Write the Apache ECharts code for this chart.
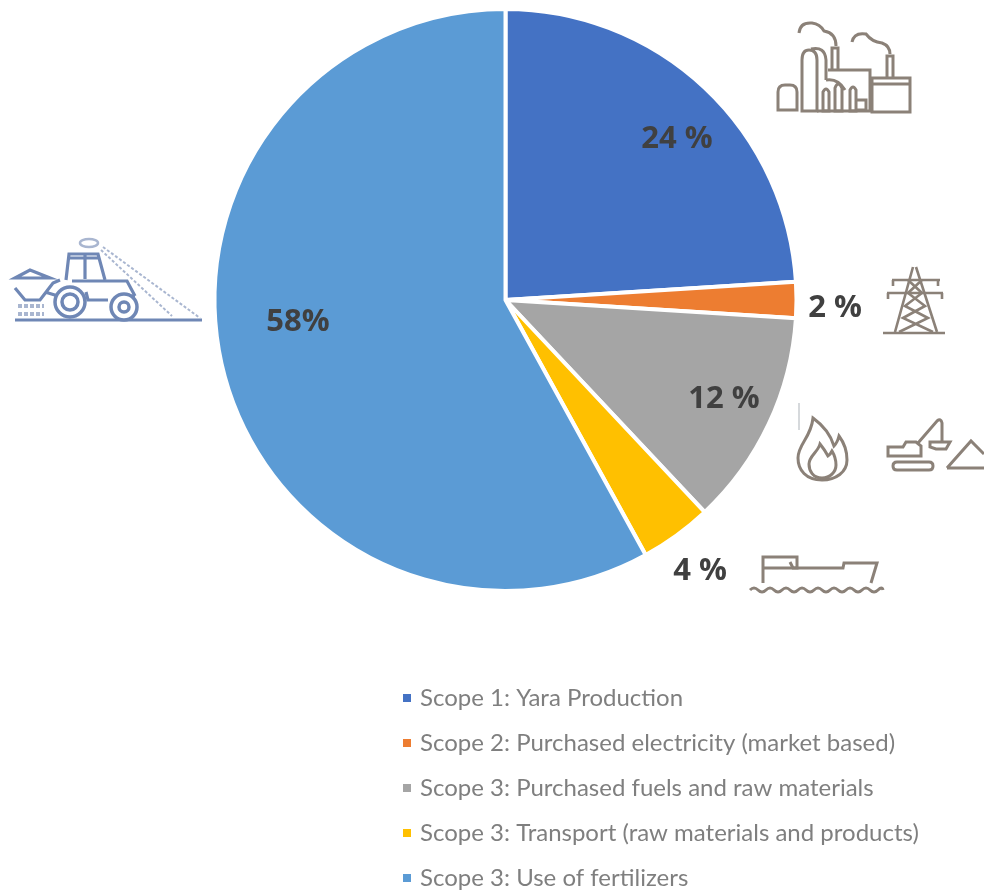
<!DOCTYPE html>
<html>
<head>
<meta charset="utf-8">
<style>html,body{margin:0;padding:0;background:#fff}#chart{width:984px;height:890px}</style>
<script src="https://cdn.jsdelivr.net/npm/echarts@6/dist/echarts.min.js"></script>
</head>
<body>
<div id="chart"></div>
<script>
// Greenhouse gas emissions by scope
const categories = [
  'Scope 1: Yara Production',
  'Scope 2: Purchased electricity (market based)',
  'Scope 3: Purchased fuels and raw materials',
  'Scope 3: Transport (raw materials and products)',
  'Scope 3: Use of fertilizers'
];
const shares = [24, 2, 12, 4, 58];
const shareLabels = ['24 %', '2 %', '12 %', '4 %', '58%'];
const sliceColors = ['#4472c4', '#ed7d31', '#a5a5a5', '#ffc000', '#5b9bd5'];
const labelSpots = [[677, 139], [835, 308], [724, 399], [700, 571], [298, 322]];

const BROWN = '#8b8178';
const BLUE = '#6f87b5';

// Line-art pictograms, each one a list of stroked paths
const factoryIcon = [
  'M778,110 V92 Q778,85 785,85 H790 Q797,85 797,92 V110 Z',
  'M802,111 V60 Q802,50 809,50 Q817,50 817,60 V111 Z',
  'M811,49 Q825,46 826,60 V80',
  'M832,70 V48 H838 V70',
  'M828,70 H870 V111 H817',
  'M872,78 H910 V112 H872 Z M872,84 H910',
  'M887,78 V56 H893 V78',
  'M799,33 Q800,22 812,23 Q820,24 824,31 Q836,33 836,46',
  'M852,42 Q854,32 866,34 Q872,42 882,43 Q890,46 890,54',
  'M823,111 V92 Q826,86 829,92 V111 Z M835,111 V88 Q838,80 842,88 V111 Z M850,111 V90 Q853,84 856,90 V111 Z',
  'M826,80 Q838,78 845,90 M856,100 H866 V110 H856'
];
const pylonIcon = [
  'M883,333 H945',
  'M913,267 L895,332 M916,267 L937,332',
  'M892,280 H940 M887,293 H943',
  'M893,280 V286 M938,280 V286 M888,293 V299 M942,293 V299',
  'M908,280 L922,293 L905,306 L928,318 L899,332 M922,280 L908,293 L925,306 L903,318 L933,332'
];
const flameIcon = [
  'M822,480 C806,480 798,470 798,458 C798,444 811,438 813,418 C824,426 831,436 834,446 C837,443 838,440 839,436 C845,444 847,452 847,460 C847,472 836,480 822,480 Z',
  'M822,478 C813,478 809,471 809,464 C809,456 818,452 820,444 C824,449 826,452 828,456 C830,455 831,453 832,451 C835,456 836,460 836,465 C836,472 830,478 822,478 Z'
];
const flameTick = ['M799,403 V430'];
const excavatorIcon = [
  'M893,466 Q893,462 897,462 H929 Q933,462 933,466 Q933,470 929,470 H897 Q893,470 893,466 Z',
  'M888,447 H903 L906,442 H916 L921,446 V456 H888 Z',
  'M918,443 L937,421 Q941,418 942,423 V442',
  'M930,447 V442 H950 L946,449 H936 Z',
  'M947,468 L971,441 L984,454 M947,468 H984'
];
const shipIcon = [
  'M763,583 V557 H797 V568 H763',
  'M790,562 L793,568 H843 L844,563 H877 L871,583',
  'M750,590 q4,-4 8,0 t8,0 t8,0 t8,0 t8,0 t8,0 t8,0 t8,0 t8,0 t8,0 t8,0 t8,0 t8,0 t8,0 t8,0 t8,0 t5,0'
];
const tractorIcon = [
  'M15,320 H202',
  'M66,280 L69,254 H98 L105,280 M68,258 H99 M85,254 V279',
  'M72,281 H127 L135,296 M127,296 H135',
  'M86,292 L88,300 H108',
  'M15,278 L30,270 L50,278 Z',
  'M15,288 L25,300 H40 L53,283 L60,280 M45,292 L58,296'
];
const tractorSeeds = ['M18,306 H44 M18,314 H44'];
const tractorDashes = ['M103,247 L200,318', 'M101,250 L172,316'];

function strokedPaths(paths, color, lineWidth, dash) {
  return paths.map(function (d) {
    return {
      type: 'path',
      shape: { pathData: d },
      style: { fill: 'none', stroke: color, lineWidth: lineWidth, lineDash: dash || null }
    };
  });
}
function wheel(cx, cy, outer, inner) {
  return [outer, inner].map(function (r) {
    return {
      type: 'circle',
      shape: { cx: cx, cy: cy, r: r },
      style: { fill: '#fff', stroke: BLUE, lineWidth: 3.5 }
    };
  });
}

const iconElements = []
  .concat(strokedPaths(factoryIcon, BROWN, 3))
  .concat(strokedPaths(pylonIcon, BROWN, 2.6))
  .concat(strokedPaths(flameIcon, BROWN, 3))
  .concat(strokedPaths(flameTick, '#c9ccd0', 1.5))
  .concat(strokedPaths(excavatorIcon, BROWN, 3))
  .concat(strokedPaths(shipIcon, BROWN, 3))
  .concat(strokedPaths(tractorIcon, BLUE, 3.2))
  .concat(strokedPaths(tractorSeeds, '#a9b6d0', 4, [4, 2]))
  .concat(strokedPaths(tractorDashes, '#a9b6d0', 2, [3, 2]))
  .concat(wheel(70, 302, 15, 8))
  .concat(wheel(124, 307, 13, 5))
  .concat([{
    type: 'ellipse',
    shape: { cx: 89, cy: 243, rx: 9, ry: 4 },
    style: { fill: '#fff', stroke: '#a9b6d0', lineWidth: 2.5 }
  }]);

const chart = echarts.init(document.getElementById('chart'), null, { renderer: 'canvas' });
chart.setOption({
  animation: false,
  backgroundColor: '#fff',
  textStyle: { fontFamily: '"Open Sans", sans-serif' },
  color: sliceColors,
  legend: {
    orient: 'vertical',
    left: 396,
    top: 681,
    height: 400,
    itemWidth: 10,
    itemHeight: 10,
    itemGap: 21,
    icon: 'rect',
    selectedMode: false,
    textStyle: { color: '#7f7f7f', fontSize: 24, fontFamily: 'Lato, sans-serif', padding: [0, 0, 0, 3], lineHeight: 24 },
    data: categories
  },
  series: [{
    type: 'pie',
    center: [505.5, 300],
    radius: [0, 291],
    startAngle: 90,
    clockwise: true,
    silent: true,
    itemStyle: { borderColor: '#fff', borderWidth: 4 },
    label: {
      show: true,
      position: 'inside',
      color: '#404040',
      fontWeight: 'bold',
      fontSize: 31,
      fontFamily: '"Open Sans", sans-serif',
      formatter: function (p) { return shareLabels[p.dataIndex]; }
    },
    labelLine: { show: false },
    labelLayout: function (p) {
      return { x: labelSpots[p.dataIndex][0], y: labelSpots[p.dataIndex][1], align: 'center', verticalAlign: 'middle' };
    },
    data: categories.map(function (name, i) { return { name: name, value: shares[i] }; })
  }, {
    // The pictograms share one custom item drawn in page coordinates
    type: 'custom',
    coordinateSystem: 'none',
    silent: true,
    data: [0],
    renderItem: function () {
      return { type: 'group', children: iconElements };
    }
  }]
});
</script>
</body>
</html>
